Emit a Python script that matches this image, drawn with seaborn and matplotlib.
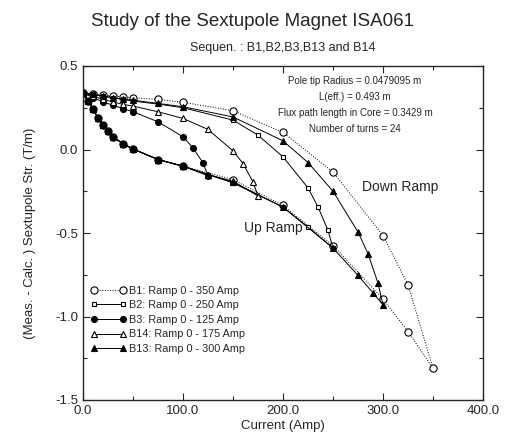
import numpy as np
import pandas as pd
import matplotlib
matplotlib.use("Agg")
import matplotlib.pyplot as plt
import seaborn as sns
from matplotlib.ticker import MultipleLocator, FormatStrFormatter

sns.set_style("ticks")
plt.rcParams['font.family'] = ['Liberation Sans', 'DejaVu Sans']

# Up ramp currents / values (shared shape)
up_i = [0, 5, 10, 15, 20, 25, 30, 40, 50, 75, 100, 125, 150]
up_v = [0.34, 0.29, 0.24, 0.19, 0.145, 0.11, 0.075, 0.035, 0.003, -0.06, -0.10, -0.15, -0.19]

# B1: Ramp 0 - 350 Amp
b1_up_i = up_i[:11] + [150, 200, 250, 300, 325, 350]
b1_up_v = up_v[:11] + [-0.18, -0.335, -0.575, -0.895, -1.09, -1.31]
b1_dn_i = [325, 300, 250, 200, 150, 100, 75, 50, 40, 30, 20, 10, 0]
b1_dn_v = [-0.81, -0.515, -0.135, 0.102, 0.232, 0.283, 0.30, 0.31, 0.315, 0.32, 0.325, 0.33, 0.34]

# B2: Ramp 0 - 250 Amp
b2_up_i = up_i + [200, 225, 250]
b2_up_v = up_v[:-1] + [-0.20, -0.345, -0.464, -0.59]
b2_dn_i = [245, 235, 225, 200, 175, 150, 100, 75, 50, 40, 30, 20, 10, 0]
b2_dn_v = [-0.484, -0.344, -0.23, -0.044, 0.086, 0.176, 0.25, 0.272, 0.29, 0.30, 0.31, 0.32, 0.33, 0.34]

# B3: Ramp 0 - 125 Amp
b3_up_i = up_i[:12]
b3_up_v = up_v[:11] + [-0.157]
b3_dn_i = [120, 110, 100, 75, 50, 40, 30, 20, 10, 0]
b3_dn_v = [-0.08, 0.01, 0.076, 0.166, 0.226, 0.245, 0.265, 0.285, 0.31, 0.34]

# B14: Ramp 0 - 175 Amp
b14_up_i = up_i + [175]
b14_up_v = up_v + [-0.278]
b14_dn_i = [170, 160, 150, 125, 100, 75, 50, 40, 30, 20, 10, 0]
b14_dn_v = [-0.194, -0.084, -0.008, 0.12, 0.186, 0.226, 0.26, 0.27, 0.285, 0.30, 0.32, 0.34]

# B13: Ramp 0 - 300 Amp
b13_up_i = up_i + [200, 250, 275, 290, 300]
b13_up_v = up_v[:-1] + [-0.195, -0.345, -0.59, -0.754, -0.858, -0.93]
b13_dn_i = [295, 285, 275, 250, 225, 200, 150, 100, 75, 50, 40, 30, 20, 10, 0]
b13_dn_v = [-0.80, -0.624, -0.494, -0.25, -0.078, 0.052, 0.195, 0.256, 0.276, 0.295, 0.30, 0.31, 0.32, 0.33, 0.34]

labels = ["B1: Ramp 0 - 350 Amp", "B2: Ramp 0 - 250 Amp", "B3: Ramp 0 - 125 Amp",
          "B14: Ramp 0 - 175 Amp", "B13: Ramp 0 - 300 Amp"]

series = [
    (b1_up_i + b1_dn_i, b1_up_v + b1_dn_v, dict(marker='o', ls=':', mfc='white', ms=5.2)),
    (b2_up_i + b2_dn_i, b2_up_v + b2_dn_v, dict(marker='s', ls='-', mfc='white', ms=3.4)),
    (b3_up_i + b3_dn_i, b3_up_v + b3_dn_v, dict(marker='o', ls='-', mfc='black', ms=4.3)),
    (b14_up_i + b14_dn_i, b14_up_v + b14_dn_v, dict(marker='^', ls='-', mfc='white', ms=4.8)),
    (b13_up_i + b13_dn_i, b13_up_v + b13_dn_v, dict(marker='^', ls='-', mfc='black', ms=4.8)),
]

fig = plt.figure(figsize=(5.06, 4.46), dpi=100)
ax = fig.add_axes([83/506, 1 - 400/446, 400/506, 334/446])

for (xs, ys, st), lab in zip(series, labels):
    df = pd.DataFrame({"I": xs, "S": ys})
    sns.lineplot(data=df, x="I", y="S", sort=False, estimator=None, ax=ax,
                 color='black', lw=0.7, linestyle=st['ls'], marker=st['marker'],
                 markerfacecolor=st['mfc'], markeredgecolor='black',
                 markeredgewidth=0.8, markersize=st['ms'], label=lab)

ax.set_xlim(0, 400)
ax.set_ylim(-1.5, 0.5)
ax.xaxis.set_major_locator(MultipleLocator(100))
ax.xaxis.set_minor_locator(MultipleLocator(50))
ax.yaxis.set_major_locator(MultipleLocator(0.5))
ax.yaxis.set_minor_locator(MultipleLocator(0.25))
ax.xaxis.set_major_formatter(FormatStrFormatter('%.1f'))
ax.yaxis.set_major_formatter(FormatStrFormatter('%.1f'))
ax.tick_params(which='both', direction='in', top=True, right=True, labelsize=9.5, width=0.8)
ax.tick_params(which='major', length=5)
ax.tick_params(which='minor', length=3)
for sp in ax.spines.values():
    sp.set_linewidth(1.0)
ax.set_xlabel("Current (Amp)", fontsize=9.5, labelpad=2)
ax.set_ylabel("(Meas. - Calc. ) Sextupole Str. (T/m)", fontsize=9.5, labelpad=14)

fig.text(0.5, 1 - 21/446, "Study of the Sextupole Magnet ISA061", ha='center', va='center', fontsize=13.5)
fig.text(283/506, 1 - 48/446, "Sequen. : B1,B2,B3,B13 and B14", ha='center', va='center', fontsize=9)

info = "Pole tip Radius = 0.0479095 m\nL(eff.) = 0.493 m\nFlux path length in Core = 0.3429 m\nNumber of turns = 24"
ax.text(272, 0.44, info, ha='center', va='top', fontsize=7, linespacing=1.75)
ax.text(317, -0.226, "Down Ramp", ha='center', va='center', fontsize=10)
ax.text(190, -0.47, "Up Ramp", ha='center', va='center', fontsize=10)

leg = ax.legend(loc='upper left', bbox_to_anchor=(0.0, 0.365), frameon=False, fontsize=7.8,
                numpoints=2, handlelength=3.3, handletextpad=0.25, labelspacing=0.42, borderaxespad=0.3)

fig.savefig("out.png", dpi=100)
